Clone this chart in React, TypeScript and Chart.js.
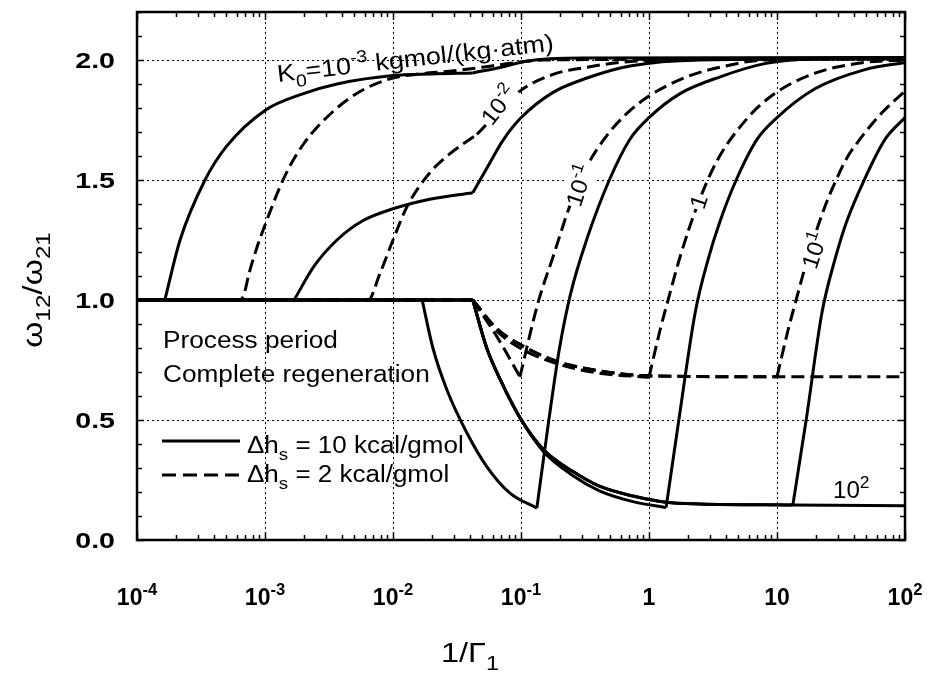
import React, { useEffect, useRef } from 'react';
import { Chart, registerables } from 'chart.js';

Chart.register(...registerables);

const FAMILY = '"Liberation Sans", Arial, Helvetica, sans-serif';

// Axis extents
const X_MIN = 1e-4;
const X_MAX = 1e2;
const Y_MIN = 0;
const Y_MAX = 2.2;

// Tick labels
const xDecades = [1e-4, 1e-3, 1e-2, 1e-1, 1, 10, 100];
const xDecadeBase = ['10', '10', '10', '10', '1', '10', '10'];
const xDecadeExp = ['-4', '-3', '-2', '-1', '', '', '2'];
const yLabelValues = [0, 0.5, 1.0, 1.5, 2.0];
const yLabelText = ['0.0', '0.5', '1.0', '1.5', '2.0'];

// Δh_s = 10 kcal/gmol (solid curves), K0 = 1e-3 ... 1e2
const solidK3X = [1e-4, 1.65e-4, 2.17e-4, 3.4e-4, 5e-4, 1e-3, 2e-3, 3.65e-3, 1e-2, 0.02, 0.042, 0.07, 0.11, 0.3, 100];
const solidK3Y = [1.0, 1.0, 1.25, 1.5, 1.64, 1.79, 1.86, 1.9, 1.935, 1.942, 1.946, 1.97, 1.995, 2.008, 2.01];
const solidK3Breaks = [1, 10];

const solidK2X = [1e-4, 1.69e-3, 2.41e-3, 3.65e-3, 5.8e-3, 1e-2, 0.0194, 0.042, 0.0542, 0.0723, 0.0982, 0.178, 0.328, 0.711, 2.5, 100];
const solidK2Y = [1.0, 1.0, 1.14, 1.25, 1.33, 1.38, 1.42, 1.447, 1.55, 1.665, 1.755, 1.865, 1.925, 1.975, 2.0, 2.005];
const solidK2Breaks = [1, 7];

const solidK1X = [1e-4, 0.0169, 0.0205, 0.0264, 0.0379, 0.0542, 0.082, 0.133, 0.165, 0.2, 0.245, 0.33, 0.49, 0.71, 1.0, 1.75, 3.6, 8, 20, 100];
const solidK1Y = [1.0, 1.0, 0.8, 0.625, 0.445, 0.305, 0.195, 0.133, 0.5, 0.8, 1.03, 1.26, 1.5, 1.67, 1.76, 1.86, 1.93, 1.985, 2.005, 2.01];
const solidK1Breaks = [1, 7];

const solidK0X = [1e-4, 0.042, 0.054, 0.0686, 0.098, 0.149, 0.255, 0.41, 0.75, 1.36, 1.71, 2.3, 2.9, 3.6, 4.8, 7.0, 10, 19.8, 48.7, 100];
const solidK0Y = [1.0, 1.0, 0.8, 0.67, 0.51, 0.37, 0.268, 0.205, 0.16, 0.135, 0.5, 0.95, 1.17, 1.33, 1.5, 1.67, 1.76, 1.88, 1.96, 1.99];
const solidK0Breaks = [1, 9];

const solidKp1X = [1e-4, 0.042, 0.054, 0.0686, 0.098, 0.149, 0.255, 0.41, 0.75, 1.36, 2.5, 13.3, 16.9, 22.5, 28.4, 35.2, 48, 70, 100];
const solidKp1Y = [1.0, 1.0, 0.8, 0.67, 0.51, 0.378, 0.285, 0.224, 0.183, 0.157, 0.15, 0.146, 0.5, 0.95, 1.17, 1.33, 1.5, 1.67, 1.76];
const solidKp1Breaks = [1, 11];

const solidKp2X = [1e-4, 0.042, 0.054, 0.0686, 0.098, 0.149, 0.255, 0.41, 0.75, 1.36, 2.5, 13.3, 100];
const solidKp2Y = [1.0, 1.0, 0.8, 0.67, 0.51, 0.378, 0.285, 0.224, 0.183, 0.157, 0.15, 0.146, 0.143];
const solidKp2Breaks = [1];

// Δh_s = 2 kcal/gmol (dashed curves)
const dashK3X = [1e-4, 6.4e-4, 6.9e-4, 7.5e-4, 8.66e-4, 9.8e-4, 1.41e-3, 2e-3, 3.65e-3, 5.8e-3, 1e-2, 0.015, 0.03, 0.05, 0.08, 0.15, 100];
const dashK3Y = [1.0, 1.0, 1.03, 1.11, 1.22, 1.3, 1.51, 1.65, 1.8, 1.875, 1.925, 1.94, 1.955, 1.97, 1.985, 2.0, 2.005];
const dashK3Breaks: number[] = [];

const dashK2X = [1e-4, 6.4e-3, 7.9e-3, 1e-2, 0.0129, 0.0194, 0.0279, 0.0453, 0.098, 0.178, 0.33, 0.6, 1.5, 100];
const dashK2Y = [1.0, 1.0, 1.11, 1.25, 1.39, 1.53, 1.61, 1.69, 1.87, 1.94, 1.97, 1.99, 2.0, 2.005];
const dashK2Breaks = [7];

const dashK1X = [1e-4, 0.042, 0.067, 0.098, 0.136, 0.178, 0.24, 0.33, 0.46, 0.65, 1.0, 1.98, 3.6, 8, 100];
const dashK1Y = [1.0, 1.0, 0.835, 0.68, 0.99, 1.18, 1.39, 1.56, 1.68, 1.77, 1.85, 1.93, 1.97, 2.0, 2.005];
const dashK1Breaks = [1, 3];

const dashK0X = [1e-4, 0.042, 0.065, 0.098, 0.19, 0.41, 1.0, 1.22, 1.41, 1.75, 2.37, 3.4, 5.93, 9.6, 19.8, 48.7, 100];
const dashK0Y = [1.0, 1.0, 0.87, 0.8, 0.735, 0.695, 0.678, 0.875, 1.0, 1.18, 1.39, 1.58, 1.76, 1.86, 1.945, 1.99, 2.0];
const dashK0Breaks = [1, 6];

const dashKp1X = [1e-4, 0.042, 0.065, 0.098, 0.19, 0.41, 1.0, 10, 12.2, 14.1, 17.5, 23.7, 28.4, 35, 43, 66, 100];
const dashKp1Y = [1.0, 1.0, 0.88, 0.815, 0.745, 0.705, 0.684, 0.68, 0.875, 1.0, 1.18, 1.39, 1.49, 1.59, 1.66, 1.78, 1.87];
const dashKp1Breaks = [1, 7];

const dashKp2X = [1e-4, 0.042, 0.065, 0.098, 0.19, 0.41, 1.0, 10, 100];
const dashKp2Y = [1.0, 1.0, 0.88, 0.815, 0.745, 0.705, 0.684, 0.68, 0.68];
const dashKp2Breaks = [1];

// Minor + major tick positions on the log axis
const xTickValues: number[] = [];
for (let d = -4; d < 2; d++) {
  for (let m = 1; m <= 9; m++) xTickValues.push(m * Math.pow(10, d));
}
xTickValues.push(100);

const isDecade = (v: number) => Math.abs(Math.log10(v) - Math.round(Math.log10(v))) < 1e-9;
const isHalf = (v: number) => Math.abs(v * 2 - Math.round(v * 2)) < 1e-6;

type Pt = { x: number; y: number };

// Split a curve at its corner points so each smooth piece is interpolated on its own
function pieces(xs: number[], ys: number[], breaks: number[]): Pt[][] {
  const cuts = [0, ...breaks, xs.length - 1];
  const out: Pt[][] = [];
  for (let i = 0; i < cuts.length - 1; i++) {
    const seg: Pt[] = [];
    for (let j = cuts[i]; j <= cuts[i + 1]; j++) seg.push({ x: xs[j], y: ys[j] });
    if (seg.length > 1) out.push(seg);
  }
  return out;
}

const curves = [
  { xs: solidK3X, ys: solidK3Y, br: solidK3Breaks, dashed: false },
  { xs: solidK2X, ys: solidK2Y, br: solidK2Breaks, dashed: false },
  { xs: solidK1X, ys: solidK1Y, br: solidK1Breaks, dashed: false },
  { xs: solidK0X, ys: solidK0Y, br: solidK0Breaks, dashed: false },
  { xs: solidKp1X, ys: solidKp1Y, br: solidKp1Breaks, dashed: false },
  { xs: solidKp2X, ys: solidKp2Y, br: solidKp2Breaks, dashed: false },
  { xs: dashK3X, ys: dashK3Y, br: dashK3Breaks, dashed: true },
  { xs: dashK2X, ys: dashK2Y, br: dashK2Breaks, dashed: true },
  { xs: dashK1X, ys: dashK1Y, br: dashK1Breaks, dashed: true },
  { xs: dashK0X, ys: dashK0Y, br: dashK0Breaks, dashed: true },
  { xs: dashKp1X, ys: dashKp1Y, br: dashKp1Breaks, dashed: true },
  { xs: dashKp2X, ys: dashKp2Y, br: dashKp2Breaks, dashed: true },
];

const DASH = [13, 6];

function buildDatasets() {
  const ds: any[] = [];
  curves.forEach((c) => {
    pieces(c.xs, c.ys, c.br).forEach((seg) => {
      ds.push({
        data: seg,
        borderColor: '#000',
        borderWidth: 3,
        borderDash: c.dashed ? DASH : [],
        pointRadius: 0,
        fill: false,
        cubicInterpolationMode: 'monotone',
        borderCapStyle: 'butt',
        borderJoinStyle: 'round',
      });
    });
  });
  return ds;
}

type Run = { t: string; s?: 'sub' | 'sup' };

function drawRich(
  ctx: CanvasRenderingContext2D,
  runs: Run[],
  x: number,
  y: number,
  o: { size: number; bold?: boolean; align?: 'left' | 'center' | 'right'; angle?: number; sx?: number; bg?: boolean }
) {
  const font = (sz: number) => `${o.bold ? 'bold ' : ''}${sz}px ${FAMILY}`;
  const small = o.size * 0.72;
  let w = 0;
  const widths = runs.map((r) => {
    ctx.font = font(r.s ? small : o.size);
    const m = ctx.measureText(r.t).width;
    w += m;
    return m;
  });
  ctx.save();
  ctx.translate(x, y);
  if (o.angle) ctx.rotate((o.angle * Math.PI) / 180);
  ctx.scale(o.sx ?? 1, 1);
  let cx = o.align === 'center' ? -w / 2 : o.align === 'right' ? -w : 0;
  if (o.bg) {
    ctx.fillStyle = '#fff';
    ctx.fillRect(cx - 1, -o.size * 0.95, w + 2, o.size * 1.25);
  }
  ctx.fillStyle = '#000';
  ctx.textAlign = 'left';
  ctx.textBaseline = 'alphabetic';
  runs.forEach((r, i) => {
    ctx.font = font(r.s ? small : o.size);
    const dy = r.s === 'sub' ? o.size * 0.3 : r.s === 'sup' ? -o.size * 0.42 : 0;
    ctx.fillText(r.t, cx, dy);
    cx += widths[i];
  });
  ctx.restore();
}

// Frame, inward ticks, labels, legend and curve annotations
const decorations = {
  id: 'decorations',
  afterDatasetsDraw(chart: any) {
    const ctx: CanvasRenderingContext2D = chart.ctx;
    const { left, right, top, bottom } = chart.chartArea;
    const xs = chart.scales.x;
    const ys = chart.scales.y;
    ctx.save();
    ctx.strokeStyle = '#000';
    ctx.lineWidth = 1.5;
    ctx.setLineDash([]);

    // inward ticks on all four sides
    ctx.beginPath();
    xTickValues.forEach((v) => {
      const px = Math.round(xs.getPixelForValue(v)) + 0.5;
      const len = isDecade(v) ? 8 : 5;
      ctx.moveTo(px, bottom);
      ctx.lineTo(px, bottom - len);
      ctx.moveTo(px, top);
      ctx.lineTo(px, top + len);
    });
    for (let i = 0; i <= 22; i++) {
      const v = i / 10;
      const py = Math.round(ys.getPixelForValue(v)) + 0.5;
      const len = isHalf(v) ? 7 : 5;
      ctx.moveTo(left, py);
      ctx.lineTo(left + len, py);
      ctx.moveTo(right, py);
      ctx.lineTo(right - len, py);
    }
    ctx.stroke();

    // frame
    ctx.lineWidth = 2.5;
    ctx.strokeRect(left, top, right - left, bottom - top);

    // tick labels
    xDecades.forEach((v, i) => {
      const px = xs.getPixelForValue(v);
      const runs: Run[] = [{ t: xDecadeBase[i] }];
      if (xDecadeExp[i]) runs.push({ t: xDecadeExp[i], s: 'sup' });
      drawRich(ctx, runs, px, bottom + 65, { size: 23, bold: true, align: 'center', sx: 1.0 });
    });
    yLabelValues.forEach((v, i) => {
      const py = ys.getPixelForValue(v);
      drawRich(ctx, [{ t: yLabelText[i] }], left - 22, py + 8, { size: 22, bold: true, align: 'right', sx: 1.3 });
    });

    // axis titles
    drawRich(ctx, [{ t: '1/Γ' }, { t: '1', s: 'sub' }], 470, 662, { size: 27, align: 'center', sx: 1.2 });
    drawRich(ctx, [{ t: 'ω' }, { t: '12', s: 'sub' }, { t: '/ω' }, { t: '21', s: 'sub' }], 42, 290, {
      size: 28,
      align: 'center',
      angle: -90,
      sx: 1.2,
    });

    // legend block
    drawRich(ctx, [{ t: 'Process period' }], 163, 348, { size: 23, align: 'left', sx: 1.14 });
    drawRich(ctx, [{ t: 'Complete regeneration' }], 163, 382, { size: 23, align: 'left', sx: 1.14 });
    ctx.lineWidth = 3;
    ctx.beginPath();
    ctx.moveTo(162, 441);
    ctx.lineTo(240, 441);
    ctx.stroke();
    ctx.setLineDash([14, 7]);
    ctx.beginPath();
    ctx.moveTo(162, 475);
    ctx.lineTo(240, 475);
    ctx.stroke();
    ctx.setLineDash([]);
    drawRich(ctx, [{ t: 'Δh' }, { t: 's', s: 'sub' }, { t: ' = 10 kcal/gmol' }], 247, 453, { size: 23, align: 'left', sx: 1.13 });
    drawRich(ctx, [{ t: 'Δh' }, { t: 's', s: 'sub' }, { t: ' = 2 kcal/gmol' }], 247, 482, { size: 23, align: 'left', sx: 1.13 });

    // curve annotations
    drawRich(
      ctx,
      [{ t: 'K' }, { t: '0', s: 'sub' }, { t: '=10' }, { t: '-3', s: 'sup' }, { t: ' kgmol/(kg·atm)' }],
      278,
      82,
      { size: 24, align: 'left', angle: -6.5, sx: 1.12 }
    );
    drawRich(ctx, [{ t: '10' }, { t: '-2', s: 'sup' }], 505, 110, { size: 23, align: 'center', angle: -52, sx: 1.05, bg: true });
    drawRich(ctx, [{ t: '10' }, { t: '-1', s: 'sup' }], 587, 188, { size: 23, align: 'center', angle: -72, sx: 1.05, bg: true });
    drawRich(ctx, [{ t: '1' }], 706, 204, { size: 23, align: 'center', angle: -72, sx: 1.05, bg: true });
    drawRich(ctx, [{ t: '10' }, { t: '1', s: 'sup' }], 822, 253, { size: 23, align: 'center', angle: -72, sx: 1.05, bg: true });
    drawRich(ctx, [{ t: '10' }, { t: '2', s: 'sup' }], 833, 498, { size: 23, align: 'left', sx: 1.05 });
    ctx.restore();
  },
};

export default function App() {
  const ref = useRef<HTMLCanvasElement>(null);
  useEffect(() => {
    const canvas = ref.current;
    if (!canvas) return;
    const chart = new Chart(canvas, {
      type: 'line',
      data: { datasets: buildDatasets() },
      options: {
        responsive: false,
        maintainAspectRatio: false,
        animation: false,
        events: [],
        layout: { padding: { left: 137, right: 26, top: 12, bottom: 133 } },
        plugins: { legend: { display: false }, tooltip: { enabled: false } },
        scales: {
          x: {
            type: 'logarithmic',
            min: X_MIN,
            max: X_MAX,
            afterBuildTicks: (scale: any) => {
              scale.ticks = xTickValues.map((v) => ({ value: v, major: isDecade(v) }));
            },
            ticks: { display: false },
            grid: {
              drawTicks: false,
              lineWidth: 1,
              color: (c: any) => (c.tick && isDecade(c.tick.value) ? '#000' : 'rgba(0,0,0,0)'),
            },
            border: { display: false, dash: [2, 3] },
          },
          y: {
            type: 'linear',
            min: Y_MIN,
            max: Y_MAX,
            ticks: { display: false, stepSize: 0.1 },
            grid: {
              drawTicks: false,
              lineWidth: 1,
              color: (c: any) => (c.tick && isHalf(c.tick.value) ? '#000' : 'rgba(0,0,0,0)'),
            },
            border: { display: false, dash: [2, 3] },
          },
        },
      } as any,
      plugins: [decorations],
    });
    return () => chart.destroy();
  }, []);
  return (
    <canvas
      ref={ref}
      width={931}
      height={673}
      style={{ display: 'block', position: 'absolute', left: 0, top: 0 }}
    />
  );
}
